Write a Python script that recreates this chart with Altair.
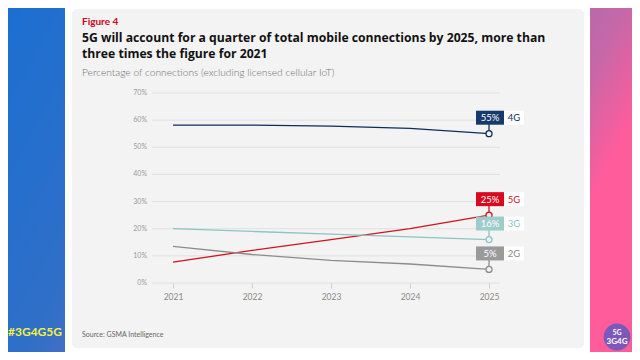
import altair as alt
import pandas as pd

# ---------------- data ----------------
years = [2021, 2022, 2023, 2024, 2025]
share_4g = [58.2, 58.2, 57.8, 57.0, 55.0]
share_5g = [7.7, 12.0, 16.0, 20.0, 25.0]
share_3g = [20.0, 19.0, 18.0, 17.0, 16.0]
share_2g = [13.5, 10.5, 8.3, 7.0, 5.0]
series = ["4G", "5G", "3G", "2G"]
line_colors = ["#0e2d5a", "#d5111f", "#8ec4c2", "#8c8c8c"]
box_colors = ["#163a6b", "#d90a1e", "#9ecccb", "#9a9a9a"]
y_ticks = [0, 10, 20, 30, 40, 50, 60, 70]

fig_label = "Figure 4"
title_lines = ["5G will account for a quarter of total mobile connections by 2025, more than",
               "three times the figure for 2021"]
subtitle = "Percentage of connections (excluding licensed cellular IoT)"
source = "Source: GSMA Intelligence"
hashtag = "#3G4G5G"

FONT = "Lato"
W, H = 348, 190
YMAX = 70
label_off = 16 * YMAX / H  # 16px above point, in data units

rows = []
for s, vals in zip(series, [share_4g, share_5g, share_3g, share_2g]):
    for yr, v in zip(years, vals):
        rows.append({"tech": s, "year": yr, "share": v})
df = pd.DataFrame(rows)
grid_df = pd.DataFrame({"share": [float(t) for t in y_ticks],
                        "lab": [f"{t}%" for t in y_ticks]})
one = pd.DataFrame({"k": [0]})

xscale = alt.Scale(domain=[2020.734, 2025.139], nice=False, zero=False)
yscale = alt.Scale(domain=[0, YMAX], nice=False, zero=True)
xaxis = alt.Axis(values=years, format="d", title=None, grid=False, domain=False,
                 tickColor="#cfcfcf", tickSize=5, labelFont=FONT, labelFontSize=8.5,
                 labelColor="#8a8a8a", labelPadding=4, labelOverlap=False, zindex=1)
cscale = alt.Scale(domain=series, range=line_colors)
fscale = alt.Scale(domain=series, range=box_colors)

def px(x):
    return x - 152

def py(y):
    return y - 93

# ---------------- decoration ----------------
grad = alt.LinearGradient(
    gradient="linear",
    stops=[alt.GradientStop(color="#1a6fd2", offset=0),
           alt.GradientStop(color="#2f6fc8", offset=0.3),
           alt.GradientStop(color="#6a6fc0", offset=0.5),
           alt.GradientStop(color="#a86bb0", offset=0.75),
           alt.GradientStop(color="#c468a8", offset=0.9),
           alt.GradientStop(color="#ff5c9c", offset=1)],
    x1=0, y1=0, x2=1, y2=0.3)
bg = alt.Chart(one).mark_rect(color=grad).encode(
    x=alt.value(px(0)), x2=alt.value(px(640)), y=alt.value(py(0)), y2=alt.value(py(360)))
card = alt.Chart(one).mark_rect(color="white").encode(
    x=alt.value(px(65)), x2=alt.value(px(590)), y=alt.value(py(4)), y2=alt.value(py(355)))
inner = alt.Chart(one).mark_rect(color="#f3f3f3", cornerRadius=5).encode(
    x=alt.value(px(72)), x2=alt.value(px(584)), y=alt.value(py(9)), y2=alt.value(py(348)))

def txt(text, x, y, size, color, weight="normal", align="left", font=FONT):
    return alt.Chart(one).mark_text(text=text, align=align, baseline="alphabetic",
                                    font=font, fontSize=size, fontWeight=weight,
                                    color=color).encode(x=alt.value(px(x)), y=alt.value(py(y)))

t_fig = txt(fig_label, 82, 25, 10, "#d0021b", "bold")
t_title1 = txt(title_lines[0], 82, 42, 12.2, "#111111", "bold", font="Open Sans")
t_title2 = txt(title_lines[1], 82, 58, 12.2, "#111111", "bold", font="Open Sans")
t_sub = txt(subtitle, 82, 76, 10.2, "#707070", 300)
t_src = txt(source, 82, 337, 7, "#666666")
t_hash = txt(hashtag, 8, 336, 12, "#f4f23a", "bold")

logo = alt.Chart(one).mark_circle(size=720, opacity=1, color="#7c58b8").encode(
    x=alt.value(px(617)), y=alt.value(py(337)))
logo1 = txt("5G", 617, 335, 7, "white", "bold", "center")
logo2 = txt("3G4G", 617, 344, 8, "white", "bold", "center")

# ---------------- chart ----------------
gbase = alt.Chart(grid_df)
grid = gbase.mark_rule(color="#e0e0e0", strokeWidth=1).encode(
    y=alt.Y("share:Q", scale=yscale, axis=None), x=alt.value(0), x2=alt.value(W))
ylabels = gbase.mark_text(align="right", baseline="middle", font=FONT, fontSize=7,
                          color="#9a9a9a").encode(
    y=alt.Y("share:Q", scale=yscale, axis=None), x=alt.value(-5), text="lab:N")

base = alt.Chart(df)
lines = base.mark_line(strokeWidth=1.3).encode(
    x=alt.X("year:Q", scale=xscale, axis=xaxis),
    y=alt.Y("share:Q", scale=yscale, axis=None),
    color=alt.Color("tech:N", scale=cscale, legend=None))

end = base.transform_filter("datum.year == 2025").transform_calculate(
    ly=f"datum.share + {label_off}")

stems = end.mark_rule(strokeWidth=1.3).encode(
    x="year:Q", y="share:Q", y2="ly:Q",
    color=alt.Color("tech:N", scale=cscale, legend=None))
points = end.mark_point(shape="circle", size=36, fill="#f3f3f3", filled=False,
                        strokeWidth=1.3, opacity=1, fillOpacity=1).encode(
    x="year:Q", y="share:Q",
    stroke=alt.Stroke("tech:N", scale=cscale, legend=None))
boxes = end.mark_rect(width=28, height=14, xOffset=1).encode(
    x="year:Q", y="ly:Q", fill=alt.Fill("tech:N", scale=fscale, legend=None))
nbox = end.mark_rect(width=20, height=14, xOffset=25, color="white").encode(
    x="year:Q", y="ly:Q")
vpct = end.transform_calculate(lab="format(datum.share, '.0f') + '%'").mark_text(
    font=FONT, fontSize=9.5, color="white", dx=1, dy=0.5, baseline="middle").encode(
    x="year:Q", y="ly:Q", text="lab:N")
ntext = end.mark_text(font=FONT, fontSize=9.5, dx=25, dy=0.5, baseline="middle").encode(
    x="year:Q", y="ly:Q", text="tech:N",
    color=alt.Color("tech:N", scale=cscale, legend=None))

chart = alt.layer(
    bg, card, inner, t_fig, t_title1, t_title2, t_sub, t_src, t_hash, logo, logo1, logo2,
    grid, ylabels, lines, stems, points, boxes, nbox, vpct, ntext
).properties(
    width=W, height=H,
    padding={"left": 144, "top": 85, "right": 132, "bottom": 69},
    autosize=alt.AutoSizeParams(type="none"),
).configure_view(stroke=None)

chart.save("out.html", embed_options={"renderer": "svg", "actions": False})
